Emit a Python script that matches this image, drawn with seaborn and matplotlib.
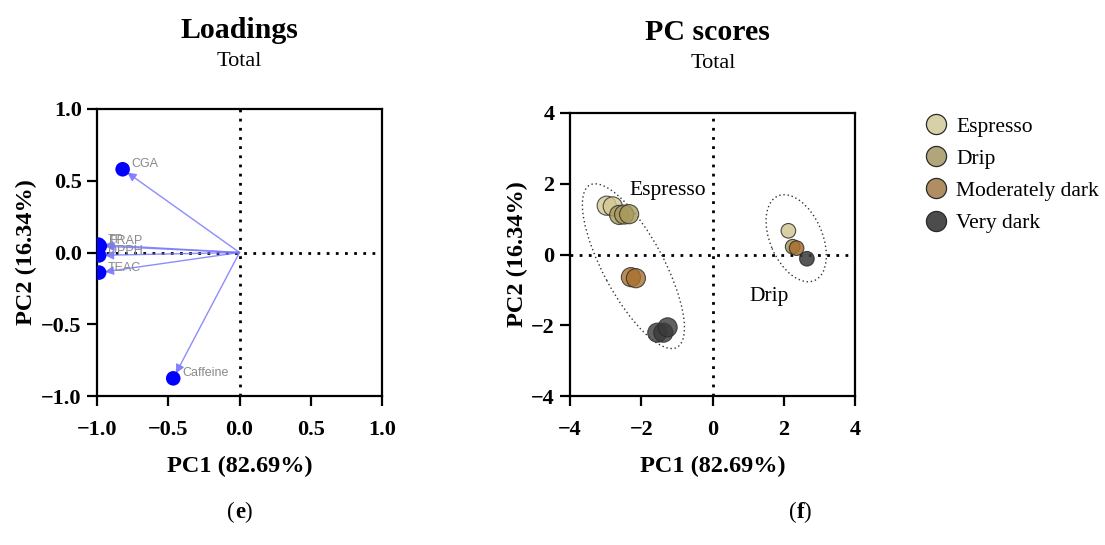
import matplotlib
matplotlib.use("Agg")
import matplotlib.pyplot as plt
import seaborn as sns
import pandas as pd
from matplotlib.patches import Ellipse
from matplotlib.lines import Line2D

# ---------------- data ----------------
load_names = ["CGA", "Caffeine", "TEAC", "TP", "FRAP", "DPPH"]
load_pc1 = [-0.82, -0.465, -0.985, -0.99, -0.98, -0.985]
load_pc2 = [0.58, -0.877, -0.14, 0.055, 0.045, -0.02]

score_cats = ["Espresso", "Drip", "Moderately dark", "Very dark"]
score_colors = ["#d2c894", "#a89a5c", "#a8702e", "#3a3a3a"]
legend_colors = ["#d8d0a6", "#b0a679", "#b08e63", "#4c4c4c"]

# espresso cluster
esp_cat = ["Espresso", "Espresso", "Drip", "Drip", "Drip",
           "Moderately dark", "Moderately dark",
           "Very dark", "Very dark", "Very dark"]
esp_pc1 = [-2.97, -2.80, -2.62, -2.48, -2.34, -2.29, -2.15, -1.55, -1.38, -1.26]
esp_pc2 = [1.38, 1.36, 1.12, 1.13, 1.14, -0.64, -0.67, -2.21, -2.21, -2.06]
# drip cluster
drip_cat = ["Espresso", "Drip", "Moderately dark", "Very dark"]
drip_pc1 = [2.13, 2.25, 2.36, 2.65]
drip_pc2 = [0.67, 0.22, 0.18, -0.12]

# ---------------- style ----------------
sns.set_theme(style="white")
plt.rcParams["font.family"] = ["Liberation Serif", "DejaVu Serif"]
plt.rcParams["axes.unicode_minus"] = True
plt.rcParams["text.color"] = "black"
plt.rcParams["axes.labelcolor"] = "black"
plt.rcParams["xtick.color"] = "black"
plt.rcParams["ytick.color"] = "black"

fig = plt.figure(figsize=(11.05, 5.45), dpi=100)
ax1 = fig.add_axes([97/1105, 1-396/545, 285/1105, 287/545])
ax2 = fig.add_axes([570/1105, 1-396/545, 285/1105, 283/545])

def style_axes(ax):
    for s in ax.spines.values():
        s.set_linewidth(1.6)
        s.set_color("black")
        s.set_visible(True)
    ax.tick_params(axis="both", direction="out", length=7, width=1.6,
                   labelsize=16, colors="black", bottom=True, left=True)
    ax.tick_params(axis="x", pad=10)
    ax.tick_params(axis="y", pad=4)
    for lab in ax.get_xticklabels() + ax.get_yticklabels():
        lab.set_fontweight("bold")
    ax.axhline(0, color="black", lw=2, ls=(0, (1, 2.3)), zorder=0)
    ax.axvline(0, color="black", lw=2, ls=(0, (1, 2.3)), zorder=0)

# ---------------- loadings ----------------
dfl = pd.DataFrame({"PC1": load_pc1, "PC2": load_pc2, "name": load_names})
for x, y in zip(dfl.PC1, dfl.PC2):
    ax1.annotate("", xy=(x, y), xytext=(0, 0),
                 arrowprops=dict(arrowstyle="-|>", color="#7878ff", lw=1,
                                 shrinkA=0, shrinkB=4, mutation_scale=13,
                                 alpha=0.85), zorder=2)
sns.scatterplot(data=dfl, x="PC1", y="PC2", ax=ax1, color="#0000ff",
                s=110, edgecolor="none", zorder=3, legend=False)
for x, y, n in zip(dfl.PC1, dfl.PC2, dfl.name):
    ax1.annotate(n, xy=(x, y), xytext=(6.5, 3.5), textcoords="offset points",
                 fontsize=9, color="#8a8a8a", family="Liberation Sans",
                 va="center", ha="left", zorder=4)
ax1.set_xlim(-1, 1)
ax1.set_ylim(-1, 1)
ax1.set_xticks([-1, -0.5, 0, 0.5, 1])
ax1.set_yticks([-1, -0.5, 0, 0.5, 1])
ax1.set_xticklabels(["\u22121.0", "\u22120.5", "0.0", "0.5", "1.0"])
ax1.set_yticklabels(["\u22121.0", "\u22120.5", "0.0", "0.5", "1.0"])
style_axes(ax1)
ax1.set_xlabel("PC1 (82.69%)", fontsize=17.5, fontweight="bold", labelpad=12)
ax1.set_ylabel("PC2 (16.34%)", fontsize=17.5, fontweight="bold", labelpad=3)

# ---------------- scores ----------------
pal = dict(zip(score_cats, score_colors))
dfe = pd.DataFrame({"PC1": esp_pc1, "PC2": esp_pc2, "cat": esp_cat})
dfd = pd.DataFrame({"PC1": drip_pc1, "PC2": drip_pc2, "cat": drip_cat})
sns.scatterplot(data=dfe, x="PC1", y="PC2", hue="cat", palette=pal, ax=ax2,
                s=190, edgecolor="#2a2a2a", linewidth=0.8, alpha=0.8,
                zorder=3, legend=False)
sns.scatterplot(data=dfd, x="PC1", y="PC2", hue="cat", palette=pal, ax=ax2,
                s=110, edgecolor="#2a2a2a", linewidth=0.8, alpha=0.85,
                zorder=3, legend=False)
ax2.add_patch(Ellipse((-2.22, -0.33), 5.2, 1.7, angle=-62, fill=False,
                      ls=(0, (1, 2)), lw=1, edgecolor="#333333", zorder=1))
ax2.add_patch(Ellipse((2.35, 0.46), 2.6, 1.47, angle=-67, fill=False,
                      ls=(0, (1, 2)), lw=1, edgecolor="#333333", zorder=1))
ax2.text(-2.33, 1.8, "Espresso", fontsize=15.5, ha="left", va="center")
ax2.text(1.05, -1.2, "Drip", fontsize=15.5, ha="left", va="center")
ax2.set_xlim(-4, 4)
ax2.set_ylim(-4, 4)
ax2.set_xticks([-4, -2, 0, 2, 4])
ax2.set_yticks([-4, -2, 0, 2, 4])
ax2.set_xticklabels(["\u22124", "\u22122", "0", "2", "4"])
ax2.set_yticklabels(["\u22124", "\u22122", "0", "2", "4"])
style_axes(ax2)
ax2.set_xlabel("PC1 (82.69%)", fontsize=17.5, fontweight="bold", labelpad=12)
ax2.set_ylabel("PC2 (16.34%)", fontsize=17.5, fontweight="bold", labelpad=2)

handles = [Line2D([], [], marker="o", ls="none", markersize=14.5,
                  markerfacecolor=c, markeredgecolor="#2a2a2a",
                  markeredgewidth=0.9) for c in legend_colors]
fig.legend(handles, score_cats, loc="upper left",
           bbox_to_anchor=(914/1105, 1-108/545), frameon=False,
           fontsize=15.5, handletextpad=0.35, labelspacing=0.56,
           borderaxespad=0, handlelength=1.2)

# ---------------- titles & captions ----------------
fig.text(239/1105, 1-30/545, "Loadings", ha="center", va="center",
         fontsize=21.5, fontweight="bold")
fig.text(239/1105, 1-61/545, "Total", ha="center", va="center", fontsize=16)
fig.text(707/1105, 1-32/545, "PC scores", ha="center", va="center",
         fontsize=21.5, fontweight="bold")
fig.text(713/1105, 1-64/545, "Total", ha="center", va="center", fontsize=16)

fig.text(235/1105, 1-512/545, "(", ha="right", va="center", fontsize=16.5)
fig.text(235/1105, 1-512/545, "e", ha="left", va="center", fontsize=16.5,
         fontweight="bold")
fig.text(244/1105, 1-512/545, ")", ha="left", va="center", fontsize=16.5)
fig.text(797/1105, 1-512/545, "(", ha="right", va="center", fontsize=16.5)
fig.text(797/1105, 1-512/545, "f", ha="left", va="center", fontsize=16.5,
         fontweight="bold")
fig.text(803/1105, 1-512/545, ")", ha="left", va="center", fontsize=16.5)

fig.savefig("out.png", dpi=100)
